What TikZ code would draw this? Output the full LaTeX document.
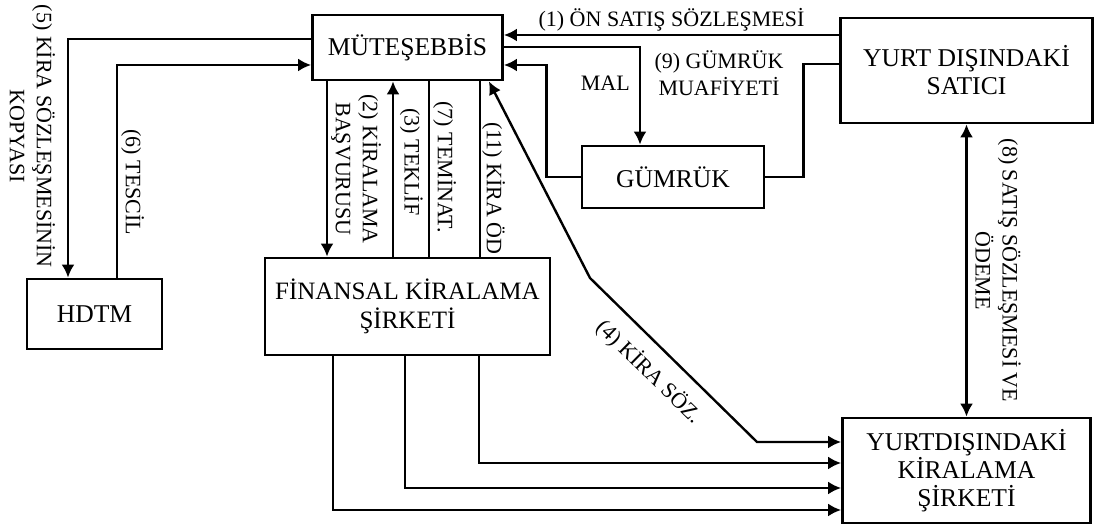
\documentclass[tikz,border=0pt]{standalone}
\usepackage{fontspec}
\setmainfont{Liberation Serif}
\usetikzlibrary{arrows.meta,calc}

\begin{document}
\begin{tikzpicture}[x=0.5pt, y=-0.5pt,
  box/.style={draw, line width=1.4pt, align=center, inner sep=0pt,
    font=\fontsize{12.8}{14}\selectfont},
  lbl/.style={font=\fontsize{11}{13.5}\selectfont, inner sep=1.5pt, align=center},
  vlbl/.style={lbl, rotate=-90},
  link/.style={line width=1.2pt},
  arr/.style={link, -{Latex[length=6.5pt,width=6.5pt]}},
  dbl/.style={link, {Latex[length=6.5pt,width=6.5pt]}-{Latex[length=6.5pt,width=6.5pt]}}]

\useasboundingbox (0,0) rectangle (1098,528);

% Boxes
\node[box, minimum width=95pt, minimum height=32.5pt] (mut) at (407.5,47.5) {MÜTEŞEBBİS};
\node[box, minimum width=126pt, minimum height=52.5pt] (sat) at (966.5,70.5) {YURT DIŞINDAKİ\\SATICI};
\node[box, minimum width=91pt, minimum height=31pt] (gum) at (673,177) {GÜMRÜK};
\node[box, minimum width=67.5pt, minimum height=35pt] (hdtm) at (94.5,314) {HDTM};
\node[box, minimum width=142.5pt, minimum height=48.5pt, font=\fontsize{12.5}{14.5}\selectfont]
  (fin) at (407.5,306.5) {FİNANSAL KİRALAMA\\ŞİRKETİ};
\node[box, minimum width=124pt, minimum height=52.5pt] (ykir) at (966.5,470.5) {YURTDIŞINDAKİ\\KİRALAMA\\ŞİRKETİ};

% Seller, customs and entrepreneur
\draw[arr] (sat.west |- 0,35) -- node[lbl, above] {(1) ÖN SATIŞ SÖZLEŞMESİ} (mut.east |- 0,35);
\draw[arr] (mut.east |- 0,47) -| node[lbl, pos=0.687, left=3pt] {MAL} ($(gum.north)+(-33,0)$);
\draw[link] (gum.east) -- ++(38,0) |- (sat.west |- 0,64);
\draw[arr] (gum.west) -- ++(-34,0) |- (mut.east |- 0,65);
\node[lbl] (muaf) at (719,73) {(9) GÜMRÜK\\MUAFİYETİ};

% Registry
\draw[arr] (mut.west |- 0,39) -| node[vlbl, pos=0.704, anchor=north, outer sep=5pt]
  {(5) KİRA SÖZLEŞMESİNİN\\KOPYASI} ($(hdtm.north)+(-26.5,0)$);
\draw[arr] ($(hdtm.north)+(22.5,0)$) |- node[vlbl, pos=0.224, anchor=south] {(6) TESCİL} (mut.west |- 0,65);

% Entrepreneur and leasing company
\draw[arr] ($(mut.south)+(-80.5,0)$) -- node[vlbl, midway, anchor=south]
  {(2) KİRALAMA\\BAŞVURUSU} ($(fin.north)+(-80.5,0)$);
\draw[arr] ($(fin.north)+(-14.5,0)$) -- node[vlbl, pos=0.54, anchor=south, outer sep=2pt]
  {(3) TEKLİF} ($(mut.south)+(-14.5,0)$);
\draw[link] ($(mut.south)+(21.5,0)$) -- node[vlbl, pos=0.49, anchor=south]
  {(7) TEMİNAT.} ($(fin.north)+(21.5,0)$);
\draw[link] ($(fin.north)+(72.5,0)$) -- node[vlbl, pos=0.39, anchor=south, inner sep=0.5pt]
  {(11) KİRA ÖD} ($(mut.south)+(72.5,0)$);

% Foreign leasing company
\draw[dbl] ($(mut.south east)+(-15,0)$) -- (590,278) -- node[lbl, sloped, below=5pt, pos=0.46]
  {(4) KİRA SÖZ.} (757,442) -- (ykir.west |- 0,442);
\draw[arr] ($(fin.south)+(71.5,0)$) |- (ykir.west |- 0,463);
\draw[arr] ($(fin.south)+(-2.5,0)$) |- (ykir.west |- 0,488);
\draw[arr] ($(fin.south)+(-74.5,0)$) |- (ykir.west |- 0,510);
\draw[dbl] (sat) -- node[vlbl, midway, anchor=south, outer sep=3pt]
  {(8) SATIŞ SÖZLEŞMESİ VE\\ÖDEME} (ykir);

\end{tikzpicture}
\end{document}
